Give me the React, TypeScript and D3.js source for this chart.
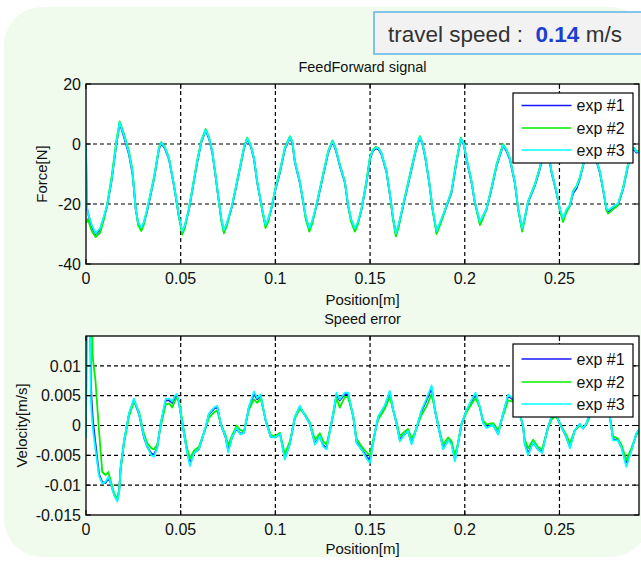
import React from "react";
import * as d3 from "d3";

// ---------- DATA ----------
const xTicks = [0, 0.05, 0.1, 0.15, 0.2, 0.25];
const forceTicks = [-40, -20, 0, 20];
const velTicks = [-0.015, -0.01, -0.005, 0, 0.005, 0.01];
const seriesNames = ["exp #1", "exp #2", "exp #3"];

const posF = [
  0.0000, 0.0004, 0.0010, 0.0030, 0.0051, 0.0075, 0.0095, 0.0112, 0.0135, 0.0160,
  0.0178, 0.0200, 0.0227, 0.0245, 0.0253, 0.0262, 0.0275, 0.0292, 0.0305, 0.0324,
  0.0359, 0.0385, 0.0397, 0.0415, 0.0438, 0.0461, 0.0473, 0.0490, 0.0508, 0.0522,
  0.0544, 0.0587, 0.0610, 0.0632, 0.0650, 0.0667, 0.0685, 0.0702, 0.0715, 0.0728,
  0.0745, 0.0772, 0.0816, 0.0835, 0.0851, 0.0870, 0.0887, 0.0904, 0.0930, 0.0948,
  0.0962, 0.0983, 0.1000, 0.1024, 0.1050, 0.1077, 0.1090, 0.1103, 0.1129, 0.1147,
  0.1160, 0.1179, 0.1195, 0.1217, 0.1252, 0.1279, 0.1302, 0.1320, 0.1340, 0.1367,
  0.1384, 0.1400, 0.1420, 0.1435, 0.1455, 0.1481, 0.1499, 0.1515, 0.1531, 0.1545,
  0.1560, 0.1587, 0.1608, 0.1620, 0.1636, 0.1650, 0.1675, 0.1719, 0.1745, 0.1763,
  0.1775, 0.1790, 0.1812, 0.1830, 0.1851, 0.1870, 0.1895, 0.1930, 0.1956, 0.1979,
  0.1995, 0.2009, 0.2036, 0.2053, 0.2080, 0.2095, 0.2115, 0.2141, 0.2168, 0.2202,
  0.2220, 0.2238, 0.2264, 0.2282, 0.2303, 0.2318, 0.2334, 0.2370, 0.2396, 0.2420,
  0.2435, 0.2458, 0.2484, 0.2502, 0.2519, 0.2535, 0.2555, 0.2572, 0.2590, 0.2607,
  0.2625, 0.2645, 0.2660, 0.2680, 0.2713, 0.2730, 0.2748, 0.2757, 0.2783, 0.2809,
  0.2836, 0.2862, 0.2880, 0.2895, 0.2906, 0.2920,
];
const forceExp1 = [
  0, -21, -23, -27.5, -30, -28.5, -24.5, -20.5, -12.3, -0.3,
  7, 2.5, -3.5, -9.8, -15, -21.5, -26.3, -28.3, -26.5, -22,
  -11.8, -1.8, 0.3, -1.3, -5, -12.8, -17.3, -24, -29.3, -27.3,
  -21.8, -6.2, 0.8, 4.5, 1.7, -3, -11.2, -19.5, -25.3, -29,
  -26.4, -20.6, -7.3, -1.3, 1.7, -0.8, -5.1, -12.9, -21.8, -27.2,
  -25.4, -20.6, -15.3, -9.5, -1.8, 2.2, 0.2, -6.2, -12.9, -19.5,
  -24.3, -28.4, -25.9, -20.6, -10.6, -2.9, 0.8, -2.3, -7.3, -12.9,
  -20.6, -25.3, -28.4, -26.4, -21.8, -12.9, -5.1, -2.3, -1.5, -1.8,
  -3.4, -9.5, -18.4, -24.3, -30, -27.4, -20.6, -8.4, -1.3, 2.2,
  0.2, -4, -12.9, -21.8, -29.3, -26.4, -22.3, -16.2, -6.2, 1.6,
  -0.3, -5.1, -12.9, -19.5, -26.2, -24.3, -21.8, -15.1, -7.3, -0.6,
  -2.3, -5.1, -12.9, -21.8, -28.4, -24.3, -19.5, -14, -8.4, -2.3,
  -0.8, -9.5, -16.2, -21.8, -25.1, -22.4, -20.6, -16.4, -14.8, -11.8,
  -7.3, -2.3, -0.8, -2.3, -9.5, -15.1, -21.8, -22.8, -21.6, -20.3,
  -15.1, -7.3, -2.3, -1.8, -2.9, -2.7,
];
const forceExp2 = [
  -26, -26, -25, -29, -31, -29.5, -25, -20, -11, 1,
  7.5, 3.5, -2.5, -8.5, -14, -21, -27, -29, -27, -21.5,
  -11, -1.2, 0.6, -0.8, -4.5, -12.3, -16.8, -24, -30.2, -28,
  -21.3, -5.5, 1.4, 5, 2.3, -2.4, -10.6, -19.4, -25.8, -29.8,
  -27, -20.3, -6.6, -0.8, 2.1, -0.3, -4.6, -12.4, -22, -28,
  -26, -20.1, -14.6, -8.8, -1.2, 2.6, 0.7, -5.6, -12.3, -19.3,
  -25, -29.2, -26.5, -20.2, -9.9, -2.3, 1.2, -1.7, -6.7, -12.4,
  -20.5, -26, -29.2, -27, -21.4, -12.2, -4.5, -1.8, -1, -1.3,
  -2.9, -9, -18.2, -24.8, -30.8, -28, -20.1, -7.7, -0.7, 2.6,
  0.7, -3.5, -12.4, -21.8, -30, -27, -22.2, -15.6, -5.5, 2.1,
  0.2, -4.6, -12.4, -19.4, -27, -25, -21.6, -14.5, -6.7, 0,
  -1.8, -4.6, -12.4, -21.8, -29.2, -24.8, -19.1, -13.4, -7.8, -1.7,
  -0.3, -9, -15.8, -22, -26, -23, -20.6, -15.6, -14, -11.2,
  -6.7, -1.7, -0.2, -1.8, -9, -14.7, -22, -23.2, -21.8, -20.4,
  -14.5, -6.7, -1.7, -1.3, -2.4, -2.3,
];
const forceExp3 = [
  0, -20, -23, -27, -29.8, -28, -24, -20.3, -12, 0,
  7.2, 3, -3.1, -9.2, -14.8, -21.5, -26, -27.9, -26, -21.5,
  -11.5, -1.5, 0.5, -1, -4.8, -12.6, -17, -23.7, -29.2, -27,
  -21.5, -5.9, 1, 4.7, 2, -2.6, -10.9, -19.2, -25, -28.7,
  -26, -20.3, -7, -1, 1.9, -0.5, -4.8, -12.6, -21.5, -27,
  -25, -20.3, -15, -9.2, -1.5, 2.4, 0.5, -5.9, -12.6, -19.2,
  -24, -28.1, -25.5, -20.3, -10.3, -2.6, 1, -2, -7, -12.6,
  -20.3, -25, -28.1, -26, -21.5, -12.6, -4.8, -2, -1.2, -1.5,
  -3.1, -9.2, -18.1, -24, -29.8, -27, -20.3, -8.1, -1, 2.4,
  0.5, -3.7, -12.6, -21.5, -29, -26, -22, -15.9, -5.9, 1.9,
  0, -4.8, -12.6, -19.2, -25.9, -24, -21.5, -14.8, -7, -0.3,
  -2, -4.8, -12.6, -21.5, -28.1, -24, -19.2, -13.7, -8.1, -2,
  -0.5, -9.2, -15.9, -21.5, -24.8, -22, -20.3, -15.9, -14.2, -11.5,
  -7, -2, -0.5, -2, -9.2, -14.8, -21.5, -22, -20.9, -19.8,
  -14.8, -7, -2, -1.5, -2.6, -2.5,
];

const posV = [
  0.0000, 0.0003, 0.0022, 0.0026, 0.0030, 0.0036, 0.0050, 0.0069, 0.0086, 0.0104,
  0.0118, 0.0130, 0.0150, 0.0165, 0.0175, 0.0183, 0.0201, 0.0227, 0.0253, 0.0280,
  0.0306, 0.0324, 0.0345, 0.0359, 0.0376, 0.0394, 0.0421, 0.0440, 0.0455, 0.0468,
  0.0479, 0.0490, 0.0500, 0.0517, 0.0535, 0.0549, 0.0560, 0.0570, 0.0596, 0.0632,
  0.0649, 0.0676, 0.0693, 0.0711, 0.0737, 0.0751, 0.0772, 0.0795, 0.0816, 0.0834,
  0.0860, 0.0887, 0.0904, 0.0922, 0.0948, 0.0975, 0.0998, 0.1024, 0.1050, 0.1077,
  0.1103, 0.1129, 0.1156, 0.1182, 0.1209, 0.1235, 0.1252, 0.1270, 0.1305, 0.1323,
  0.1340, 0.1367, 0.1384, 0.1411, 0.1429, 0.1455, 0.1481, 0.1499, 0.1525, 0.1543,
  0.1578, 0.1604, 0.1622, 0.1640, 0.1657, 0.1684, 0.1701, 0.1719, 0.1736, 0.1772,
  0.1798, 0.1825, 0.1842, 0.1868, 0.1886, 0.1912, 0.1930, 0.1948, 0.1965, 0.1983,
  0.2009, 0.2036, 0.2057, 0.2080, 0.2097, 0.2115, 0.2150, 0.2176, 0.2202, 0.2229,
  0.2255, 0.2280, 0.2308, 0.2317, 0.2334, 0.2361, 0.2387, 0.2408, 0.2440, 0.2458,
  0.2480, 0.2502, 0.2519, 0.2537, 0.2555, 0.2581, 0.2607, 0.2625, 0.2642, 0.2660,
  0.2700, 0.2740, 0.2766, 0.2783, 0.2809, 0.2827, 0.2853, 0.2880, 0.2906, 0.2924,
];
const velExp1 = [
  -0.002, 0.02, 0.02, 0.007, 0.004, 0.001, -0.003, -0.0082, -0.0095, -0.0096,
  -0.0088, -0.0096, -0.0117, -0.0125, -0.011, -0.007, -0.0026, 0.0019, 0.0043, 0.0019,
  -0.002, -0.0036, -0.0047, -0.0049, -0.0037, 0.0002, 0.0042, 0.0042, 0.0038, 0.0046,
  0.005, 0.004, 0.002, -0.0013, -0.0045, -0.0062, -0.0055, -0.0046, -0.004, -0.0003,
  0.0019, 0.0028, 0.0031, 0.0003, -0.002, -0.0042, -0.0019, -0.0005, -0.0014, -0.0012,
  0.003, 0.0053, 0.0044, 0.005, 0.0009, -0.0019, -0.002, -0.0014, -0.0054, -0.003,
  0.0014, 0.0031, 0.0017, 0.0003, -0.003, -0.0018, -0.0033, -0.0038, 0.0019, 0.0052,
  0.0042, 0.0053, 0.0052, 0.0015, -0.0028, -0.004, -0.0052, -0.0058, -0.0013, 0.0014,
  0.0032, 0.0055, 0.0026, 0.0003, -0.0024, -0.0014, -0.001, -0.0029, -0.0014, 0.0024,
  0.0042, 0.0063, 0.0026, -0.0013, -0.0038, -0.0025, -0.003, -0.0057, -0.003, 0.0003,
  0.0025, 0.0041, 0.0052, 0.003, 0.0005, -0.0002, 0.0001, -0.0014, 0.0019, 0.005,
  0.0043, 0.0034, -0.0002, -0.003, -0.0047, -0.0028, -0.004, -0.0044, -0.0002, 0.0014,
  0.0019, 0.0003, -0.0008, -0.002, -0.0036, -0.0008, 0.0002, -0.0005, 0.0003, 0.0019,
  0.0038, 0.0029, 0.0015, -0.0023, -0.0025, -0.0036, -0.0065, -0.0041, -0.0014, -0.0006,
];
const velExp2 = [
  -0.002, 0.02, 0.02, 0.02, 0.02, 0.0113, 0.0075, -0.001, -0.0078, -0.0083,
  -0.0078, -0.0092, -0.0115, -0.0122, -0.0108, -0.0075, -0.003, 0.0015, 0.004, 0.0023,
  -0.0014, -0.003, -0.0038, -0.004, -0.0032, -0.0002, 0.0035, 0.0037, 0.003, 0.004,
  0.0046, 0.0042, 0.0025, -0.0008, -0.004, -0.0055, -0.0048, -0.0042, -0.0036, -0.0004,
  0.0013, 0.0022, 0.0025, 0.0004, -0.0016, -0.0033, -0.0016, 0.0, -0.0008, -0.001,
  0.0026, 0.0044, 0.0038, 0.0046, 0.001, -0.0016, -0.0018, -0.0012, -0.0048, -0.0026,
  0.0012, 0.0028, 0.0019, 0.0005, -0.0024, -0.0013, -0.0026, -0.0032, 0.0016, 0.0046,
  0.003, 0.0048, 0.0047, 0.0016, -0.0022, -0.0035, -0.0045, -0.005, -0.0012, 0.001,
  0.0028, 0.0048, 0.0025, 0.0006, -0.0018, -0.001, -0.0006, -0.0022, -0.0012, 0.0018,
  0.0032, 0.0052, 0.0028, -0.001, -0.0032, -0.002, -0.0026, -0.005, -0.0028, 0.0002,
  0.0022, 0.0036, 0.0046, 0.003, 0.0008, 0.0002, 0.0004, -0.0008, 0.0016, 0.0042,
  0.004, 0.0032, 0.0, -0.0024, -0.0038, -0.0024, -0.0036, -0.004, -0.0004, 0.001,
  0.0016, 0.0004, -0.0006, -0.0016, -0.003, -0.0008, 0.0, -0.0004, 0.0002, 0.0015,
  0.0032, 0.0026, 0.0014, -0.0018, -0.0022, -0.0032, -0.0058, -0.0038, -0.0016, -0.001,
];
const velExp3 = [
  -0.002, 0.02, 0.02, 0.004, 0.002, -0.0005, -0.004, -0.0085, -0.0097, -0.0094,
  -0.0086, -0.0096, -0.0118, -0.0127, -0.0112, -0.007, -0.0025, 0.002, 0.0045, 0.002,
  -0.0019, -0.0036, -0.005, -0.0052, -0.0038, 0.0003, 0.0045, 0.0045, 0.004, 0.0049,
  0.0053, 0.004, 0.002, -0.0013, -0.0047, -0.0068, -0.0056, -0.0046, -0.004, -0.0002,
  0.002, 0.003, 0.0033, 0.0003, -0.0019, -0.0045, -0.0019, -0.0004, -0.0015, -0.0012,
  0.0031, 0.0057, 0.0046, 0.0052, 0.0009, -0.0019, -0.002, -0.0014, -0.0057, -0.003,
  0.0015, 0.0033, 0.0017, 0.0003, -0.0032, -0.0018, -0.0035, -0.004, 0.002, 0.0055,
  0.0044, 0.0055, 0.0055, 0.0015, -0.003, -0.004, -0.0055, -0.0063, -0.0013, 0.0015,
  0.0034, 0.0058, 0.0026, 0.0003, -0.0027, -0.0014, -0.0009, -0.0032, -0.0014, 0.0026,
  0.0045, 0.0067, 0.0026, -0.0013, -0.004, -0.0025, -0.0032, -0.006, -0.003, 0.0003,
  0.0026, 0.0043, 0.0055, 0.0031, 0.0004, -0.0004, 0.0001, -0.0015, 0.002, 0.0052,
  0.0045, 0.0035, -0.0002, -0.0032, -0.005, -0.0028, -0.004, -0.0046, -0.0002, 0.0015,
  0.002, 0.0003, -0.0008, -0.002, -0.0038, -0.0008, 0.0003, -0.0005, 0.0003, 0.002,
  0.004, 0.003, 0.0015, -0.0025, -0.0025, -0.0037, -0.0069, -0.0042, -0.0013, -0.0005,
];

const colors = ["#1414ff", "#00f000", "#00ffff"];
const FONT = "'Liberation Sans', Arial, sans-serif";

type PlotProps = {
  id: string;
  top: number;
  bottom: number;
  yDomain: [number, number];
  yTicks: number[];
  gridY: number[];
  xs: number[];
  series: number[][];
  title: string;
  titleY: number;
  ylabel: string;
  ylabelX: number;
  xlabelY: number;
  legend: { x: number; y: number; w: number; h: number; rows: number[] };
};

const LEFT = 86;
const RIGHT = 639;

function Plot(p: PlotProps) {
  const x = d3.scaleLinear().domain([0, 0.292]).range([LEFT, RIGHT]);
  const y = d3.scaleLinear().domain(p.yDomain).range([p.bottom, p.top]);
  const line = d3
    .line<number>()
    .x((_, i) => x(p.xs[i]))
    .y((d) => y(d));
  const midX = (LEFT + RIGHT) / 2;
  const tl = 5;
  return (
    <g>
      <defs>
        <clipPath id={p.id}>
          <rect x={LEFT} y={p.top} width={RIGHT - LEFT} height={p.bottom - p.top} />
        </clipPath>
      </defs>
      <rect x={LEFT} y={p.top} width={RIGHT - LEFT} height={p.bottom - p.top} fill="#fff" />
      {xTicks.filter((t) => t > 0).map((t) => (
        <line key={"gx" + t} x1={x(t)} x2={x(t)} y1={p.top} y2={p.bottom}
          stroke="#000" strokeWidth={1.2} strokeDasharray="4,3" />
      ))}
      {p.gridY.map((t) => (
        <line key={"gy" + t} x1={LEFT} x2={RIGHT} y1={y(t)} y2={y(t)}
          stroke="#000" strokeWidth={1.2} strokeDasharray="4,3" />
      ))}
      <g clipPath={`url(#${p.id})`}>
        {p.series.map((s, i) => (
          <path key={i} d={line(s) || ""} fill="none" stroke={colors[i]} strokeWidth={1.8}
            strokeLinejoin="round" />
        ))}
      </g>
      <rect x={LEFT} y={p.top} width={RIGHT - LEFT} height={p.bottom - p.top}
        fill="none" stroke="#000" strokeWidth={1.3} />
      {xTicks.map((t) => (
        <g key={"tx" + t}>
          <line x1={x(t)} x2={x(t)} y1={p.bottom} y2={p.bottom - tl} stroke="#000" />
          <line x1={x(t)} x2={x(t)} y1={p.top} y2={p.top + tl} stroke="#000" />
          <text x={x(t)} y={p.bottom + 19.5} textAnchor="middle" fontSize={16}
            fontFamily={FONT} fill="#111">{String(t)}</text>
        </g>
      ))}
      {p.yTicks.map((t) => (
        <g key={"ty" + t}>
          <line x1={LEFT} x2={LEFT + tl} y1={y(t)} y2={y(t)} stroke="#000" />
          <line x1={RIGHT} x2={RIGHT - tl} y1={y(t)} y2={y(t)} stroke="#000" />
          <text x={LEFT - 5} y={y(t)} dy="0.36em" textAnchor="end" fontSize={16}
            fontFamily={FONT} fill="#111">{String(t)}</text>
        </g>
      ))}
      <text x={midX} y={p.titleY} textAnchor="middle" fontSize={14.5} fontFamily={FONT}
        fill="#111">{p.title}</text>
      <text x={midX} y={p.xlabelY} textAnchor="middle" fontSize={15} fontFamily={FONT}
        fill="#111">Position[m]</text>
      <text transform={`translate(${p.ylabelX},${(p.top + p.bottom) / 2}) rotate(-90)`}
        textAnchor="middle" fontSize={15} fontFamily={FONT} fill="#111">{p.ylabel}</text>
      <rect x={p.legend.x} y={p.legend.y} width={p.legend.w} height={p.legend.h}
        fill="#fff" stroke="#000" strokeWidth={1.2} />
      {seriesNames.map((n, i) => (
        <g key={n}>
          <line x1={p.legend.x + 8.5} x2={p.legend.x + 58.5} y1={p.legend.rows[i]}
            y2={p.legend.rows[i]} stroke={colors[i]} strokeWidth={1.7} />
          <text x={p.legend.x + 63.5} y={p.legend.rows[i]} dy="0.36em" fontSize={16}
            fontFamily={FONT} fill="#111" style={{ whiteSpace: "pre" }}>{n}</text>
        </g>
      ))}
    </g>
  );
}

export default function App() {
  return (
    <svg width={641} height={561} style={{ position: "absolute", left: 0, top: 0 }}
      xmlns="http://www.w3.org/2000/svg">
      <rect x={0} y={0} width={641} height={561} fill="#fff" />
      <rect x={4} y={7} width={645} height={550} rx={38} fill="#f0fbee" />
      <rect x={374} y={12} width={280} height={42} fill="#f2f2f2" stroke="#5fb4e6"
        strokeWidth={1.5} />
      <text x={388} y={41.5} fontSize={22.5} fontFamily={FONT} fill="#333"
        style={{ whiteSpace: "pre" }}>
        <tspan>travel speed :  </tspan>
        <tspan fontWeight="bold" fill="#1c3fcf">0.14</tspan>
        <tspan> m/s</tspan>
      </text>
      <Plot id="clipF" top={84} bottom={264} yDomain={[-40, 20]} yTicks={forceTicks}
        gridY={[-20, 0]} xs={posF} series={[forceExp1, forceExp2, forceExp3]}
        title="FeedForward signal" titleY={72} ylabel="Force[N]" ylabelX={47}
        xlabelY={304.5}
        legend={{ x: 513, y: 93, w: 120, h: 70, rows: [105.5, 128, 150] }} />
      <Plot id="clipV" top={336} bottom={515} yDomain={[-0.015, 0.015]} yTicks={velTicks}
        gridY={[-0.01, -0.005, 0, 0.005, 0.01]} xs={posV}
        series={[velExp1, velExp2, velExp3]}
        title="Speed error" titleY={323.5} ylabel="Velocity[m/s]" ylabelX={27}
        xlabelY={554}
        legend={{ x: 513, y: 344, w: 120, h: 73, rows: [359, 382, 404] }} />
    </svg>
  );
}
